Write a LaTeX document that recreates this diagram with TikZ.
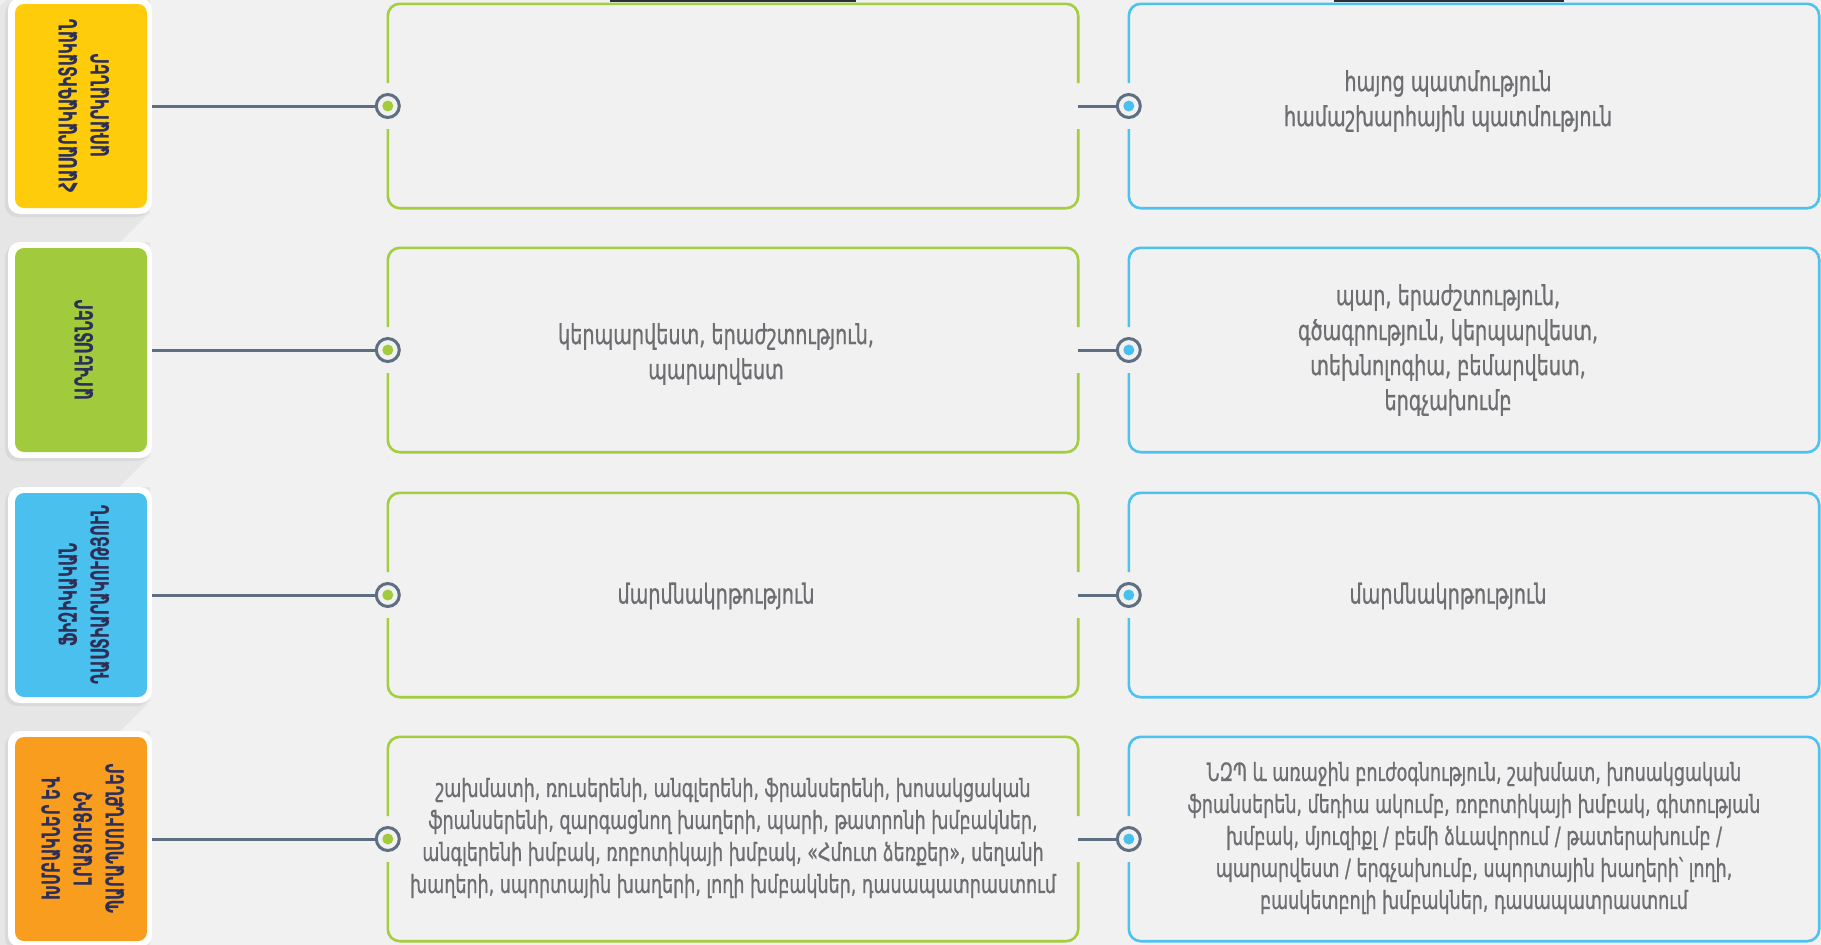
\documentclass[tikz,border=0pt]{standalone}
\usepackage{fontspec}
\usetikzlibrary{calc}
\newfontfamily\armtxt{DejaVu Sans}[FakeStretch=0.70,FakeBold=0.8]
\newfontfamily\armcap{DejaVu Sans}[FakeStretch=0.62]
\definecolor{bg}{HTML}{F1F1F1}
\definecolor{shd}{HTML}{E6E6E6}
\definecolor{frshd}{HTML}{D9D9D9}
\definecolor{cyel}{HTML}{FECC0A}
\definecolor{cgrn}{HTML}{A1CB3C}
\definecolor{cblu}{HTML}{49C0EE}
\definecolor{corg}{HTML}{F99D1E}
\definecolor{navy}{HTML}{2E2F56}
\definecolor{slate}{HTML}{5F6F82}
\definecolor{txtg}{HTML}{6D6E71}
\definecolor{bgrn}{HTML}{A4CD3F}
\definecolor{bblu}{HTML}{4DC2EF}
\definecolor{darkbar}{HTML}{2B2D3A}
\tikzset{
  frame/.style={rectangle, rounded corners=12pt, fill=white, minimum width=144, minimum height=216, inner sep=0pt},
  catbox/.style={rectangle, rounded corners=9pt, minimum width=132, minimum height=204, inner sep=0pt},
  cattxt/.style={rotate=90, align=center, text=navy, inner sep=0pt, font=\armcap\bfseries\fontsize{25}{32}\selectfont},
  boxn/.style={rectangle, minimum width=690, minimum height=204, inner sep=0pt},
  bt/.style={align=center, text=txtg, inner sep=0pt, font=\armtxt\fontsize{27.4}{35}\selectfont},
  bts/.style={bt, font=\armtxt\fontsize{25}{32}\selectfont},
  gline/.style={draw=bgrn, line width=2.6pt, rounded corners=12pt},
  bline/.style={draw=bblu, line width=2.6pt, rounded corners=12pt},
  ring/.style={circle, draw=slate, line width=3pt, fill=bg, minimum size=23, inner sep=0pt},
  dotn/.style={circle, minimum size=11, inner sep=0pt},
  conn/.style={draw=slate, line width=3pt},
}
\begin{document}
\begin{tikzpicture}[x=1pt,y=-1pt]
\fill[bg] (0,0) rectangle (1821,945);
\useasboundingbox (0,0) rectangle (1821,945);
% long shadows
\begin{scope}
\clip (0,0) rectangle (1821,945);
\foreach \c in {106,350,595,839}{
  \fill[shd] (8,\c-108) -- (150,\c-108) -- (150,\c+106) -- (150-500,\c+106+500) -- (8-500,\c-108+500) -- cycle;
  \fill[frshd, rounded corners=12pt] (5,\c-105) rectangle (149,\c+111);
}
\end{scope}
% category boxes
\node[frame] (fr1) at (80,106) {};
\node[frame] (fr2) at (80,350) {};
\node[frame] (fr3) at (80,595) {};
\node[frame] (fr4) at (80,839) {};
\node[catbox, fill=cyel] (cat1) at (81,106) {};
\node[catbox, fill=cgrn] (cat2) at (81,350) {};
\node[catbox, fill=cblu] (cat3) at (81,595) {};
\node[catbox, fill=corg] (cat4) at (81,839) {};
\node[cattxt] (ct1) at ($(cat1.center)+(3,0)$) {ՀԱՍԱՐԱԿԱԳԻՏԱԿԱՆ\\ԱՌԱՐԿԱՆԵՐ};
\node[cattxt] (ct2) at ($(cat2.center)+(3,0)$) {ԱՐՎԵՍՏՆԵՐ};
\node[cattxt] (ct3) at ($(cat3.center)+(3,0)$) {ՖԻԶԻԿԱԿԱՆ\\ԴԱՍՏԻԱՐԱԿՈՒԹՅՈՒՆ};
\node[cattxt] (ct4) at ($(cat4.center)+(2,0)$) {ԽՄԲԱԿՆԵՐ ԵՎ\\ԼՐԱՑՈՒՑԻՉ\\ՊԱՐԱՊՄՈՒՆՔՆԵՐ};
% box geometry
\node[boxn] (m1) at (733,106) {};
\node[boxn] (m2) at (733,350) {};
\node[boxn] (m3) at (733,595) {};
\node[boxn] (m4) at (733,839) {};
\node[boxn] (r1) at (1474,106) {};
\node[boxn] (r2) at (1474,350) {};
\node[boxn] (r3) at (1474,595) {};
\node[boxn] (r4) at (1474,839) {};
% texts
\node[bt] (tm2) at ($(m2.center)+(-17,4)$) {կերպարվեստ, երաժշտություն,\\պարարվեստ};
\node[bt] (tm3) at ($(m3.center)+(-17,1)$) {մարմնակրթություն};
\node[bts] (tm4) at ($(m4.center)+(0,-1)$) {շախմատի, ռուսերենի, անգլերենի, ֆրանսերենի, խոսակցական\\ֆրանսերենի, զարգացնող խաղերի, պարի, թատրոնի խմբակներ,\\անգլերենի խմբակ, ռոբոտիկայի խմբակ, «Հմուտ ձեռքեր», սեղանի\\խաղերի, սպորտային խաղերի, լողի խմբակներ, դասապատրաստում};
\node[bt] (tr1) at ($(r1.center)+(-26,-5)$) {հայոց պատմություն\\համաշխարհային պատմություն};
\node[bt] (tr2) at ($(r2.center)+(-26,0)$) {պար, երաժշտություն,\\գծագրություն, կերպարվեստ,\\տեխնոլոգիա, բեմարվեստ,\\երգչախումբ};
\node[bt] (tr3) at ($(r3.center)+(-26,1)$) {մարմնակրթություն};
\node[bts] (tr4) at ($(r4.center)+(0,-1)$) {ՆԶՊ և առաջին բուժօգնություն, շախմատ, խոսակցական\\ֆրանսերեն, մեդիա ակումբ, ռոբոտիկայի խմբակ, գիտության\\խմբակ, մյուզիքլ / բեմի ձևավորում / թատերախումբ /\\պարարվեստ / երգչախումբ, սպորտային խաղերի՝ լողի,\\բասկետբոլի խմբակներ, դասապատրաստում};
% borders with gaps
\foreach \n in {m1,m2,m3,m4}{
  \draw[gline] ($(\n.west)+(0,-23)$) -- (\n.north west) -- (\n.north east) -- ($(\n.east)+(0,-23)$);
  \draw[gline] ($(\n.east)+(0,23)$) -- (\n.south east) -- (\n.south west) -- ($(\n.west)+(0,23)$);
}
\foreach \n in {r1,r2,r3,r4}{
  \draw[bline] ($(\n.west)+(0,-23)$) -- (\n.north west) -- (\n.north east) -- (\n.south east) -- (\n.south west) -- ($(\n.west)+(0,23)$);
}
% top bars
\fill[darkbar] (610,0) rectangle (856,2);
\fill[darkbar] (1334,0) rectangle (1564,2);
% connectors and rings
\foreach \k in {1,2,3,4}{
  \node[ring] (lc\k) at (m\k.west) {};
  \node[dotn, fill=cgrn] (ld\k) at (lc\k.center) {};
  \node[ring] (rc\k) at (r\k.west) {};
  \node[dotn, fill=cblu] (rd\k) at (rc\k.center) {};
  \draw[conn] (fr\k.east) -- (lc\k.west);
  \draw[conn] (m\k.east) -- (rc\k.west);
}
\end{tikzpicture}
\end{document}
